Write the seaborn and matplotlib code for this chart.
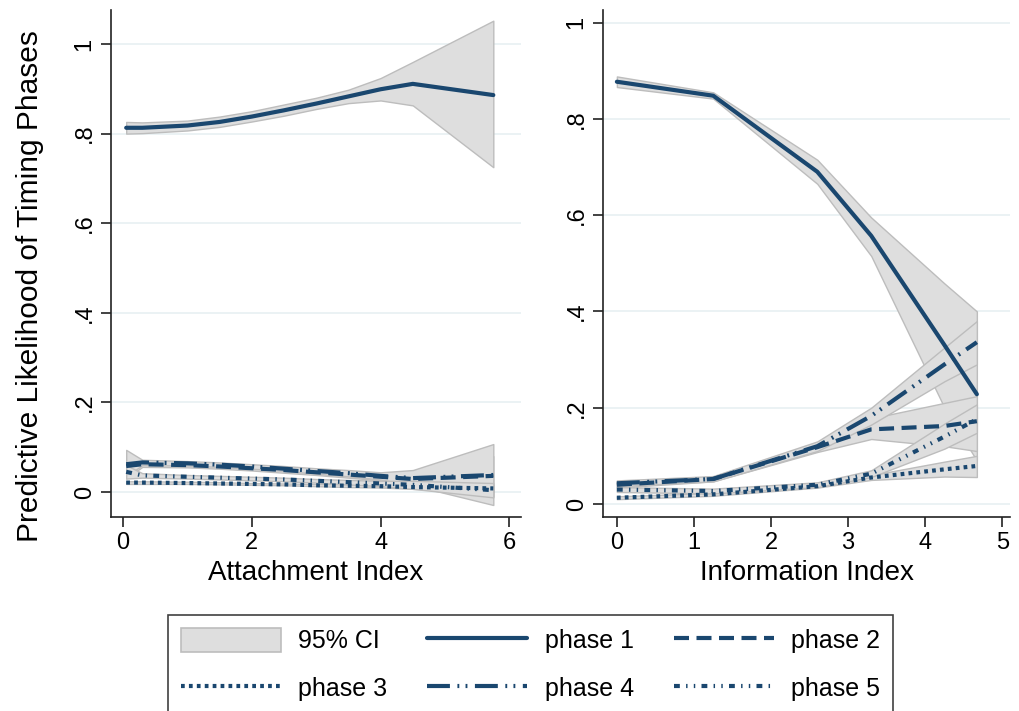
import numpy as np
import pandas as pd
import matplotlib
matplotlib.use("Agg")
import matplotlib.pyplot as plt
from matplotlib.lines import Line2D
from matplotlib.patches import Patch
import seaborn as sns

# ---------------- data ----------------
phases = ["phase 1", "phase 2", "phase 3", "phase 4", "phase 5"]

# Left panel: Attachment Index
att_x = [0.05, 0.3, 1.0, 1.5, 2.0, 2.5, 3.0, 3.5, 4.0, 4.5, 5.75]
att_p1 = [0.813, 0.813, 0.818, 0.826, 0.838, 0.852, 0.867, 0.883, 0.899, 0.911, 0.886]
att_p1_lo = [0.800, 0.801, 0.807, 0.815, 0.827, 0.840, 0.855, 0.868, 0.874, 0.863, 0.725]
att_p1_hi = [0.826, 0.825, 0.829, 0.838, 0.850, 0.865, 0.880, 0.898, 0.924, 0.960, 1.052]
att_p2 = [0.058, 0.062, 0.060, 0.057, 0.053, 0.049, 0.044, 0.039, 0.034, 0.029, 0.036]
att_p2_lo = [0.030, 0.056, 0.055, 0.052, 0.048, 0.043, 0.038, 0.032, 0.026, 0.018, -0.010]
att_p2_hi = [0.090, 0.068, 0.066, 0.062, 0.058, 0.055, 0.050, 0.046, 0.042, 0.040, 0.080]
att_p3 = [0.021, 0.021, 0.020, 0.019, 0.018, 0.017, 0.015, 0.014, 0.013, 0.011, 0.008]
att_p3_lo = [0.018, 0.018, 0.018, 0.017, 0.016, 0.015, 0.013, 0.011, 0.010, 0.007, 0.000]
att_p3_hi = [0.024, 0.024, 0.023, 0.022, 0.020, 0.019, 0.018, 0.017, 0.016, 0.015, 0.016]
att_p4 = [0.062, 0.066, 0.064, 0.061, 0.057, 0.052, 0.047, 0.042, 0.036, 0.031, 0.038]
att_p4_lo = [0.035, 0.060, 0.059, 0.056, 0.052, 0.047, 0.041, 0.035, 0.028, 0.015, -0.029]
att_p4_hi = [0.094, 0.072, 0.069, 0.066, 0.062, 0.058, 0.053, 0.049, 0.044, 0.049, 0.107]
att_p5 = [0.045, 0.037, 0.034, 0.032, 0.030, 0.028, 0.025, 0.022, 0.019, 0.016, 0.004]
att_p5_lo = [0.030, 0.032, 0.030, 0.028, 0.026, 0.024, 0.021, 0.017, 0.013, 0.007, -0.012]
att_p5_hi = [0.060, 0.042, 0.038, 0.036, 0.034, 0.032, 0.029, 0.027, 0.025, 0.025, 0.020]

# Right panel: Information Index
inf_x = [0.0, 1.25, 2.6, 3.3, 4.25, 4.67]
inf_p1 = [0.877, 0.848, 0.690, 0.557, 0.330, 0.228]
inf_p1_lo = [0.866, 0.842, 0.665, 0.515, 0.200, 0.090]
inf_p1_hi = [0.888, 0.855, 0.715, 0.595, 0.458, 0.400]
inf_p2 = [0.040, 0.052, 0.118, 0.155, 0.162, 0.172]
inf_p2_lo = [0.034, 0.047, 0.108, 0.135, 0.120, 0.110]
inf_p2_hi = [0.046, 0.057, 0.128, 0.178, 0.210, 0.224]
inf_p3 = [0.013, 0.020, 0.037, 0.055, 0.072, 0.079]
inf_p3_lo = [0.010, 0.017, 0.034, 0.050, 0.057, 0.056]
inf_p3_hi = [0.016, 0.023, 0.040, 0.060, 0.088, 0.100]
inf_p4 = [0.043, 0.052, 0.120, 0.183, 0.290, 0.336]
inf_p4_lo = [0.037, 0.047, 0.110, 0.165, 0.255, 0.290]
inf_p4_hi = [0.049, 0.058, 0.130, 0.200, 0.325, 0.380]
inf_p5 = [0.030, 0.027, 0.040, 0.063, 0.140, 0.176]
inf_p5_lo = [0.025, 0.022, 0.035, 0.056, 0.115, 0.148]
inf_p5_hi = [0.035, 0.032, 0.045, 0.070, 0.167, 0.207]

x_ticks_left = [0, 2, 4, 6]
x_ticks_right = [0, 1, 2, 3, 4, 5]
y_ticks = [0, 0.2, 0.4, 0.6, 0.8, 1.0]
y_tick_labels = ["0", ".2", ".4", ".6", ".8", "1"]


def build(x, series):
    rows = []
    for name, (m, lo, hi) in series.items():
        for xi, mi, li, hi_ in zip(x, m, lo, hi):
            rows.append({"x": xi, "phase": name, "y": mi, "lo": li, "hi": hi_})
    return pd.DataFrame(rows)


df_att = build(att_x, {
    "phase 1": (att_p1, att_p1_lo, att_p1_hi),
    "phase 2": (att_p2, att_p2_lo, att_p2_hi),
    "phase 3": (att_p3, att_p3_lo, att_p3_hi),
    "phase 4": (att_p4, att_p4_lo, att_p4_hi),
    "phase 5": (att_p5, att_p5_lo, att_p5_hi),
})
df_inf = build(inf_x, {
    "phase 1": (inf_p1, inf_p1_lo, inf_p1_hi),
    "phase 2": (inf_p2, inf_p2_lo, inf_p2_hi),
    "phase 3": (inf_p3, inf_p3_lo, inf_p3_hi),
    "phase 4": (inf_p4, inf_p4_lo, inf_p4_hi),
    "phase 5": (inf_p5, inf_p5_lo, inf_p5_hi),
})

# ---------------- style ----------------
sns.set_theme(style="white")
plt.rcParams["font.family"] = ["Liberation Sans Narrow", "Liberation Sans", "DejaVu Sans"]
plt.rcParams["text.color"] = "black"
plt.rcParams["axes.labelcolor"] = "black"
plt.rcParams["xtick.color"] = "black"
plt.rcParams["ytick.color"] = "black"

NAVY = "#1a476f"
CI_FILL = "#dedede"
CI_EDGE = "#bdbdbd"
GRID = "#e8f0f2"
LW = 3.0
dashes = {
    "phase 1": "",
    "phase 2": (3.6, 1.8),
    "phase 3": (0.9, 1.0),
    "phase 4": (5.5, 1.8, 0.45, 1.5, 0.45, 1.8),
    "phase 5": (1.4, 1.5, 0.35, 1.5, 0.35, 1.5),
}
palette = {p: NAVY for p in phases}

fig = plt.figure(figsize=(10.19, 7.11), dpi=100)
ax1 = fig.add_axes([111 / 1019, 1 - 517 / 711, 410 / 1019, 507 / 711])
ax2 = fig.add_axes([603 / 1019, 1 - 517 / 711, 407 / 1019, 507 / 711])


def draw(ax, df, xlim, ylim, xticks, xlabel):
    for p in phases:
        d = df[df["phase"] == p]
        ax.fill_between(d["x"], d["lo"], d["hi"], facecolor=CI_FILL,
                        edgecolor=CI_EDGE, linewidth=1.0, zorder=2)
    sns.lineplot(data=df, x="x", y="y", hue="phase", style="phase",
                 palette=palette, dashes=dashes, hue_order=phases,
                 style_order=phases, linewidth=LW, legend=False, ax=ax,
                 estimator=None, sort=True, zorder=3)
    for ln in ax.get_lines():
        ln.set_dash_capstyle("butt")
        ln.set_solid_capstyle("round")
    ax.set_xlim(*xlim)
    ax.set_ylim(*ylim)
    ax.set_xticks(xticks)
    ax.set_xticklabels([str(t) for t in xticks])
    ax.set_yticks(y_ticks)
    ax.set_yticklabels(y_tick_labels, rotation=90, va="center")
    ax.set_xlabel(xlabel, fontsize=20, labelpad=4)
    ax.set_ylabel("")
    ax.grid(axis="y", color=GRID, linewidth=1.2, zorder=0)
    ax.grid(axis="x", visible=False)
    ax.set_axisbelow(True)
    for s in ["top", "right"]:
        ax.spines[s].set_visible(False)
    for s in ["left", "bottom"]:
        ax.spines[s].set_color("#222222")
        ax.spines[s].set_linewidth(1.2)
    ax.tick_params(axis="both", which="major", direction="out", length=7,
                   width=1.2, color="#222222", labelsize=17, pad=4,
                   left=True, bottom=True, labelcolor="black")


draw(ax1, df_att, (-0.186, 6.18), (-0.0558, 1.0759), x_ticks_left, "Attachment Index")
draw(ax2, df_inf, (-0.18, 5.10), (-0.027, 1.026), x_ticks_right, "Information Index")

ax1.set_ylabel("Predictive Likelihood of Timing Phases", fontsize=21.5)
ax1.yaxis.set_label_coords(-0.163, 0.456)

# legend (Stata order: row-wise; matplotlib fills column-wise)
h_ci = Patch(facecolor=CI_FILL, edgecolor=CI_EDGE, linewidth=1.2)


def lh(p):
    ls = "-" if dashes[p] == "" else (0, dashes[p])
    return Line2D([], [], color=NAVY, linewidth=LW, linestyle=ls,
                  dash_capstyle="butt")


handles = [h_ci, lh("phase 3"), lh("phase 1"), lh("phase 4"), lh("phase 2"), lh("phase 5")]
labels = ["95% CI", "phase 3", "phase 1", "phase 4", "phase 2", "phase 5"]
leg = fig.legend(handles, labels, loc="upper left",
                 bbox_to_anchor=(168 / 1019, 1 - 615 / 711), ncol=3,
                 fontsize=18, frameon=True, fancybox=False, edgecolor="#111111",
                 handlelength=4.0, handleheight=1.1, handletextpad=0.7,
                 columnspacing=1.6, labelspacing=0.9, borderpad=0.5,
                 borderaxespad=0)
leg.get_frame().set_linewidth(1.2)

fig.savefig("out.png", dpi=100, facecolor="white")
